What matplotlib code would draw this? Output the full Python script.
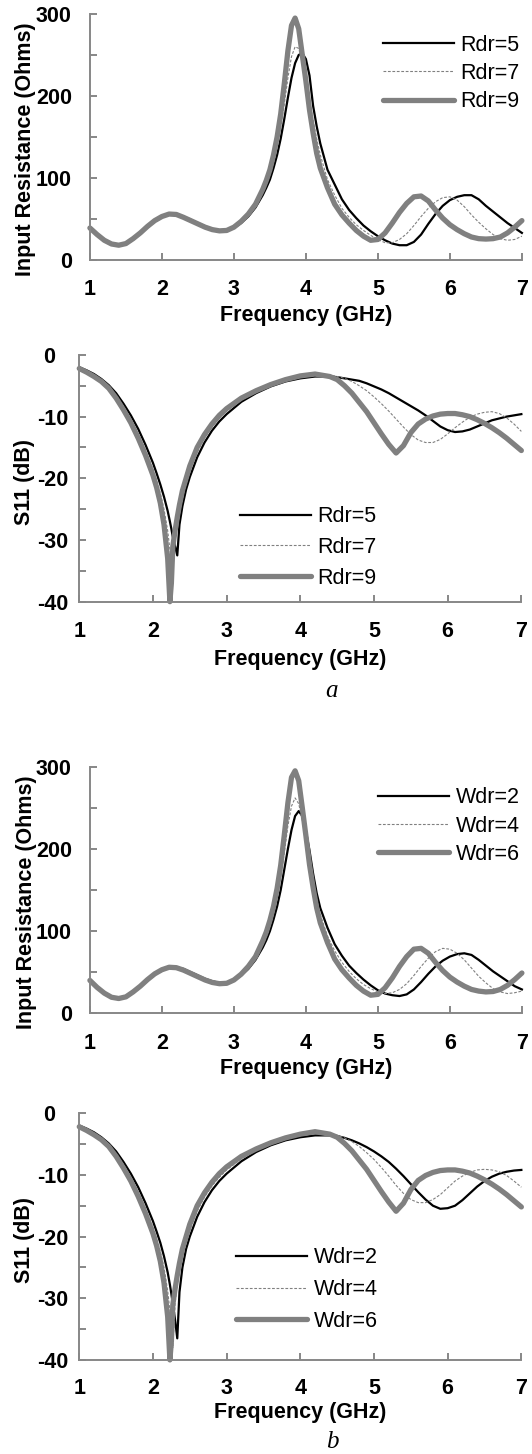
import matplotlib
matplotlib.use("Agg")
import matplotlib.pyplot as plt

plt.rcParams['font.family'] = ['Liberation Sans', 'DejaVu Sans']

# ---- data ----
freq_r = [1.0, 1.1, 1.2, 1.3, 1.4, 1.5, 1.6, 1.7, 1.8, 1.9, 2.0,
          2.1, 2.2, 2.3, 2.4, 2.5, 2.6, 2.7, 2.8, 2.9, 3.0,
          3.1, 3.2, 3.3, 3.4, 3.45, 3.5, 3.55, 3.6,
          3.65, 3.7, 3.75, 3.8, 3.85, 3.9, 3.95, 4.0, 4.05, 4.1, 4.15, 4.2,
          4.3, 4.4, 4.5, 4.6, 4.7, 4.8, 4.9, 5.0,
          5.1, 5.2, 5.3, 5.4, 5.5, 5.6, 5.7, 5.8, 5.9, 6.0,
          6.1, 6.2, 6.3, 6.4, 6.5, 6.6, 6.7, 6.8, 6.9, 7.0]

res_rdr5 = [39, 31.5, 25, 20, 18, 19.5, 25, 32, 40, 47, 52,
            55.5, 56, 53, 49, 45, 41, 38, 36, 36, 39,
            45, 53, 64, 79, 88, 98, 112, 128,
            148, 172, 198, 222, 240, 250, 252, 245, 225, 188, 163, 142,
            110, 92, 74, 61, 51, 42, 35, 29,
            24, 20, 18, 18, 22, 31, 44, 56, 66, 73,
            77, 79, 79, 74, 66, 59, 52, 45, 39, 33]
res_rdr7 = [39, 31, 24.5, 19.5, 18, 20, 25.5, 32.5, 40.5, 47.5, 52.5,
            55.5, 55.5, 52.5, 48.5, 44.5, 40.5, 37.5, 36, 36, 39.5,
            46, 54, 66, 82, 92, 104, 119, 138,
            162, 190, 222, 248, 260, 258, 240, 218, 195, 170, 148, 128,
            98, 79, 63, 52, 43, 36, 30, 25,
            21, 21, 25, 32, 42, 53, 63, 71, 76, 77,
            73, 65, 55, 46, 38, 31, 26, 24, 25, 29]
res_rdr9 = [39, 31, 24, 19.5, 18, 20, 26, 33, 41, 48, 53,
            56, 55.5, 52, 48, 44, 40, 37, 35.5, 36, 40,
            47, 56, 68, 86, 97, 110, 128, 150,
            178, 215, 255, 286, 295, 282, 250, 218, 183, 155, 130, 112,
            88, 68, 55, 45, 36, 29, 24, 25,
            33, 45, 58, 69, 77, 78, 72, 61, 51, 43,
            37, 32, 28, 26, 25.5, 26, 28, 33, 40, 48]

res_wdr2 = [40, 32, 25, 20, 18, 19.5, 25, 32, 40, 47, 52,
            55.5, 56, 54, 50, 46, 42, 39, 37, 37, 40,
            46, 54, 65, 80, 89, 100, 114, 130,
            150, 175, 200, 223, 240, 246, 240, 222, 198, 170, 146, 128,
            104, 84, 70, 58, 49, 41, 34, 28,
            24, 22, 21, 23, 29, 38, 48, 57, 64, 69,
            72, 73, 71, 65, 58, 51, 45, 39, 33, 29]
res_wdr4 = [40, 31.5, 24.5, 19.5, 18, 20, 25.5, 32.5, 40.5, 47.5, 52.5,
            55.5, 55.5, 53, 49, 45, 41, 38, 36.5, 37, 40,
            46.5, 55, 67, 83, 93, 106, 121, 140,
            165, 195, 228, 252, 262, 255, 235, 210, 185, 160, 138, 120,
            94, 76, 62, 51, 42, 35, 30, 26,
            24, 25, 29, 36, 46, 57, 67, 75, 79, 78,
            73, 65, 55, 45, 37, 30, 26, 24, 25, 27]
res_wdr6 = [40, 31.5, 24.5, 19.5, 18, 20, 26, 33, 41, 48, 53,
            56, 55.5, 52.5, 48.5, 44.5, 40.5, 37.5, 36, 36.5, 40.5,
            47.5, 57, 69, 88, 99, 113, 130, 152,
            180, 217, 256, 287, 295, 283, 250, 216, 181, 153, 128, 110,
            86, 66, 53, 43, 34, 27, 22, 23,
            31, 43, 57, 69, 78, 79, 73, 62, 52, 44,
            38, 33, 29, 27, 26, 26.5, 29, 34, 41, 49]

freq_s = [1.0, 1.1, 1.2, 1.3, 1.4, 1.5, 1.6, 1.7, 1.8, 1.9, 2.0,
          2.05, 2.1, 2.15, 2.2, 2.23, 2.25, 2.27, 2.3, 2.33, 2.36, 2.4, 2.45, 2.5,
          2.6, 2.7, 2.8, 2.9, 3.0,
          3.2, 3.4, 3.6, 3.8, 4.0, 4.2, 4.4,
          4.5, 4.6, 4.7, 4.8, 4.9, 5.0, 5.1, 5.2, 5.3, 5.4,
          5.5, 5.6, 5.7, 5.8, 5.9, 6.0, 6.1, 6.2, 6.3, 6.4,
          6.5, 6.6, 6.7, 6.8, 6.9, 7.0]

s11_rdr5 = [-2.0, -2.5, -3.1, -3.9, -4.9, -6.2, -7.9, -9.8, -12.0, -14.6, -17.5,
            -19.2, -21.0, -23.0, -25.3, -27.0, -28.2, -29.5, -31.0, -32.5, -27.5, -24.5, -21.8, -19.8,
            -16.6, -14.2, -12.3, -10.8, -9.6,
            -7.6, -6.2, -5.1, -4.3, -3.8, -3.5, -3.5,
            -3.6, -3.8, -4.0, -4.2, -4.6, -5.1, -5.6, -6.2, -6.9, -7.6,
            -8.3, -9.0, -9.8, -10.7, -11.6, -12.2, -12.5, -12.4, -12.1, -11.6,
            -11.1, -10.6, -10.3, -10.0, -9.8, -9.6]
s11_rdr7 = [-2.1, -2.6, -3.3, -4.1, -5.1, -6.6, -8.4, -10.4, -12.7, -15.4, -18.5,
            -20.3, -22.4, -25.0, -28.5, -31.5, -33.5, -35.0, -30.0, -27.0, -25.0, -23.0, -20.6, -18.8,
            -15.8, -13.5, -11.7, -10.3, -9.1,
            -7.3, -6.0, -4.9, -4.1, -3.6, -3.3, -3.3,
            -3.5, -3.8, -4.3, -5.0, -5.8, -6.8, -7.9, -9.1, -10.4, -11.7,
            -12.9, -13.8, -14.2, -14.2, -13.7, -12.8, -11.8, -10.9, -10.1, -9.6,
            -9.3, -9.2, -9.5, -10.2, -11.2, -12.4]
s11_rdr9 = [-2.2, -2.8, -3.5, -4.3, -5.4, -7.0, -8.9, -11.0, -13.5, -16.3, -19.5,
            -21.5, -24.0, -27.5, -33.0, -40.0, -37.0, -31.0, -28.5, -26.3, -24.3, -22.0, -20.0, -18.0,
            -15.0, -12.9, -11.2, -9.8, -8.7,
            -7.0, -5.8, -4.8, -4.0, -3.4, -3.1, -3.5,
            -4.0, -5.0, -6.2, -7.7, -9.2, -11.0, -12.8, -14.5, -15.9, -14.7,
            -12.6, -11.2, -10.4, -9.9, -9.6, -9.5, -9.5, -9.7, -10.0, -10.5,
            -11.1, -11.8, -12.6, -13.5, -14.5, -15.5]

s11_wdr2 = [-2.0, -2.5, -3.1, -3.9, -4.9, -6.2, -7.9, -9.8, -12.0, -14.6, -17.5,
            -19.2, -21.0, -23.2, -25.8, -27.8, -29.3, -31.0, -33.5, -36.5, -29.0, -25.0, -22.0, -20.0,
            -16.8, -14.4, -12.5, -11.0, -9.8,
            -7.8, -6.3, -5.2, -4.4, -3.9, -3.6, -3.6,
            -3.7, -4.0, -4.4, -4.9, -5.5, -6.2, -7.0, -7.9, -9.0, -10.2,
            -11.5, -12.8, -14.0, -15.0, -15.5, -15.4, -15.0, -14.1, -13.0, -11.9,
            -11.0, -10.3, -9.8, -9.5, -9.3, -9.2]
s11_wdr4 = [-2.1, -2.6, -3.3, -4.1, -5.1, -6.6, -8.4, -10.4, -12.7, -15.4, -18.5,
            -20.3, -22.4, -25.0, -28.8, -32.0, -35.0, -38.0, -31.0, -27.5, -25.3, -23.2, -20.8, -19.0,
            -15.9, -13.6, -11.8, -10.4, -9.2,
            -7.4, -6.0, -4.9, -4.1, -3.6, -3.3, -3.3,
            -3.6, -4.0, -4.6, -5.4, -6.4, -7.5, -8.8, -10.2, -11.7, -13.0,
            -14.0, -14.5, -14.5, -14.0, -13.2, -12.1, -11.0, -10.2, -9.6, -9.2,
            -9.1, -9.2, -9.5, -10.1, -11.0, -12.0]
s11_wdr6 = [-2.2, -2.8, -3.5, -4.3, -5.4, -7.0, -8.9, -11.0, -13.5, -16.3, -19.5,
            -21.5, -24.0, -27.5, -33.0, -40.0, -37.0, -31.0, -28.5, -26.3, -24.3, -22.0, -20.0, -18.0,
            -15.0, -12.9, -11.2, -9.8, -8.7,
            -7.0, -5.8, -4.8, -4.0, -3.4, -3.0, -3.4,
            -3.9, -4.9, -6.1, -7.6, -9.1, -10.9, -12.7, -14.4, -15.9, -14.6,
            -12.4, -10.9, -10.1, -9.6, -9.3, -9.2, -9.2, -9.4, -9.7, -10.2,
            -10.8, -11.5, -12.3, -13.2, -14.2, -15.2]

labels_r = ['Rdr=5', 'Rdr=7', 'Rdr=9']
labels_w = ['Wdr=2', 'Wdr=4', 'Wdr=6']

res_ticks = [0, 50, 100, 150, 200, 250, 300]
res_ticklabels = ['0', '', '100', '', '200', '', '300']
s11_ticks = [-40, -35, -30, -25, -20, -15, -10, -5, 0]
s11_ticklabels = ['-40', '', '-30', '', '-20', '', '-10', '', '0  ']
freq_ticks = [1, 2, 3, 4, 5, 6, 7]

axis_grey = '#878787'
line_grey = '#808080'
fs = 15.5


def panel(ax, y1, y2, y3, freq, labels, ylabel, yticks, yticklabels, ylim):
    ax.plot(freq, y1, color='black', lw=1.6, clip_on=False, label=labels[0])
    ax.plot(freq, y2, color=line_grey, lw=0.8, ls=(0, (2.5, 1.5)), clip_on=False, label=labels[1])
    ax.plot(freq, y3, color=line_grey, lw=3.8, clip_on=False,
            solid_capstyle='round', solid_joinstyle='round', label=labels[2])
    ax.set_xlim(1, 7)
    ax.set_ylim(*ylim)
    for s in ['top', 'right']:
        ax.spines[s].set_visible(False)
    for s in ['left', 'bottom']:
        ax.spines[s].set_color(axis_grey)
        ax.spines[s].set_linewidth(1.4)
    ax.set_xticks(freq_ticks)
    ax.set_xticklabels([str(t) for t in freq_ticks], fontsize=fs, fontweight='bold')
    ax.set_yticks(yticks)
    ax.set_yticklabels(yticklabels, fontsize=fs, fontweight='bold')
    ax.tick_params(direction='in', length=5, width=1.4, color=axis_grey)
    ax.set_xlabel('Frequency (GHz)', fontsize=fs, fontweight='bold')
    ax.set_ylabel(ylabel, fontsize=fs, fontweight='bold')
    ax.yaxis.label.set_va('center')
    ax.xaxis.label.set_va('center')


fig = plt.figure(figsize=(5.32, 14.54), dpi=100)

ax1 = fig.add_axes([0.169, 0.8212, 0.812, 0.1692])
panel(ax1, res_rdr5, res_rdr7, res_rdr9, freq_r, labels_r,
      'Input Resistance (Ohms)', res_ticks, res_ticklabels, (0, 300))
ax1.tick_params(axis='y', pad=13)
ax1.tick_params(axis='x', pad=14)
ax1.yaxis.set_label_coords(-0.150, 0.45)
ax1.xaxis.set_label_coords(0.5, -0.225)
ax1.legend(loc='upper right', bbox_to_anchor=(1.02, 0.96), frameon=False, borderpad=0,
           handlelength=3.3, handletextpad=0.3, labelspacing=0.34, fontsize=fs)

ax2 = fig.add_axes([0.149, 0.5862, 0.831, 0.1697])
panel(ax2, s11_rdr5, s11_rdr7, s11_rdr9, freq_s, labels_r,
      'S11 (dB)', s11_ticks, s11_ticklabels, (-40, 0))
ax2.tick_params(axis='y', pad=8)
ax2.tick_params(axis='x', pad=14)
ax2.yaxis.set_label_coords(-0.125, 0.485)
ax2.xaxis.set_label_coords(0.5, -0.235)
ax2.legend(loc='upper left', bbox_to_anchor=(0.339, 0.43), frameon=False, borderpad=0,
           handlelength=3.3, handletextpad=0.3, labelspacing=0.45, fontsize=fs)

ax3 = fig.add_axes([0.169, 0.3031, 0.812, 0.1696])
panel(ax3, res_wdr2, res_wdr4, res_wdr6, freq_r, labels_w,
      'Input Resistance (Ohms)', res_ticks, res_ticklabels, (0, 300))
ax3.tick_params(axis='y', pad=13)
ax3.tick_params(axis='x', pad=14)
ax3.yaxis.set_label_coords(-0.146, 0.45)
ax3.xaxis.set_label_coords(0.5, -0.222)
ax3.legend(loc='upper right', bbox_to_anchor=(1.02, 0.96), frameon=False, borderpad=0,
           handlelength=3.3, handletextpad=0.3, labelspacing=0.34, fontsize=fs)

ax4 = fig.add_axes([0.149, 0.0647, 0.831, 0.1697])
panel(ax4, s11_wdr2, s11_wdr4, s11_wdr6, freq_s, labels_w,
      'S11 (dB)', s11_ticks, s11_ticklabels, (-40, 0))
ax4.tick_params(axis='y', pad=8)
ax4.tick_params(axis='x', pad=13)
ax4.yaxis.set_label_coords(-0.125, 0.487)
ax4.xaxis.set_label_coords(0.5, -0.215)
ax4.legend(loc='upper left', bbox_to_anchor=(0.330, 0.50), frameon=False, borderpad=0,
           handlelength=3.3, handletextpad=0.3, labelspacing=0.5, fontsize=fs)

fig.text(0.624, 0.5248, 'a', fontsize=18, style='italic',
         family=['Liberation Serif', 'DejaVu Serif'], ha='center', va='center')
fig.text(0.624, 0.0083, 'b', fontsize=18, style='italic',
         family=['Liberation Serif', 'DejaVu Serif'], ha='center', va='center')

fig.savefig('out.png', dpi=100, facecolor='white')
